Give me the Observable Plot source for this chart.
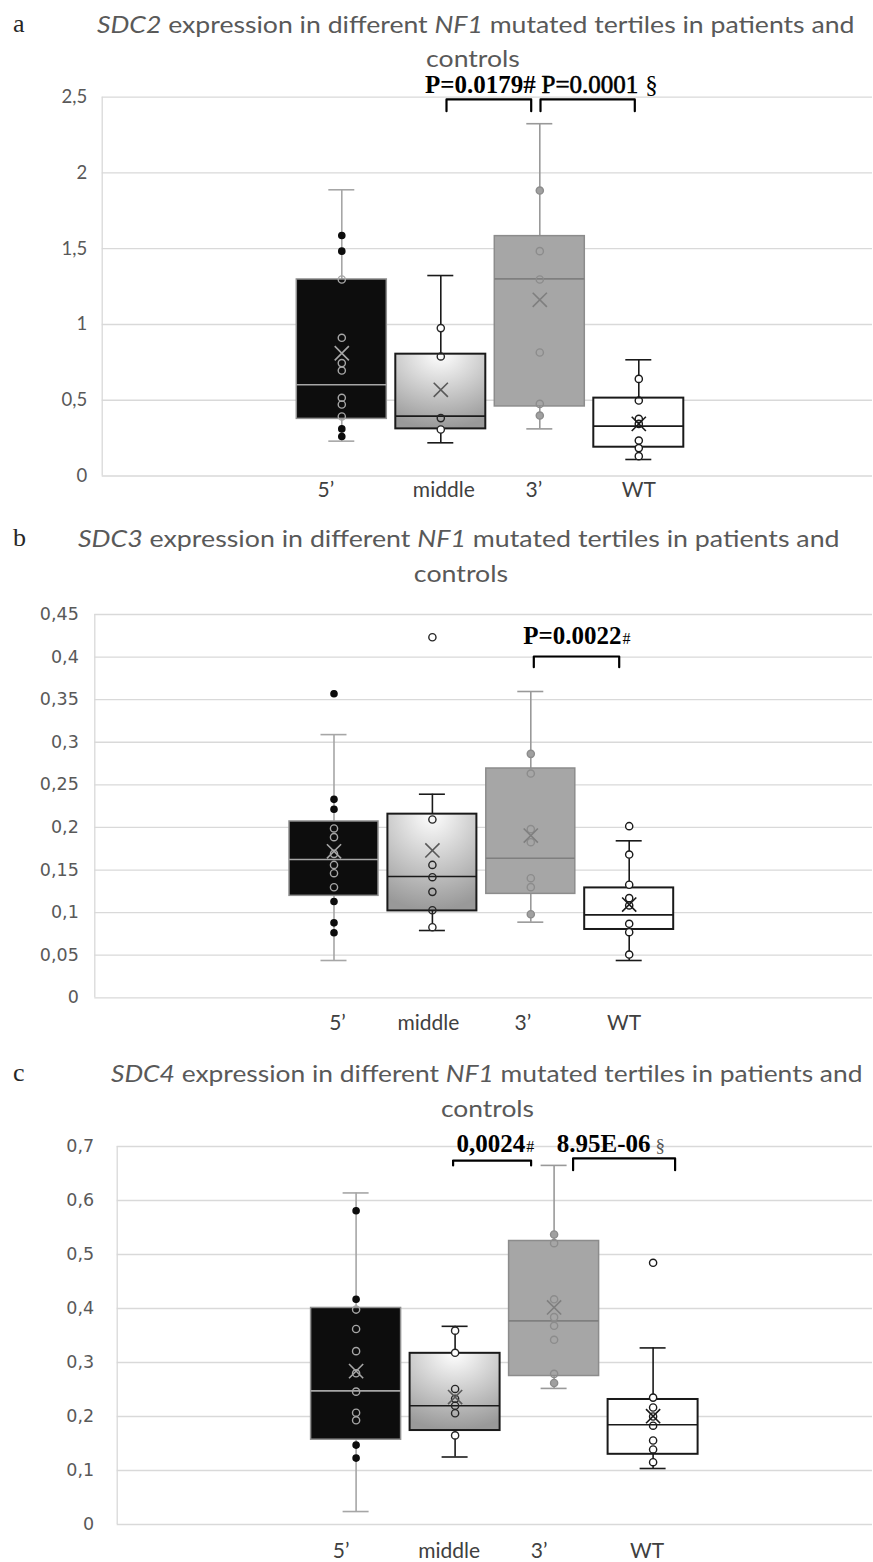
<!DOCTYPE html>
<html>
<head>
<meta charset="utf-8">
<script src="https://cdn.jsdelivr.net/npm/d3@7"></script>
<script src="https://cdn.jsdelivr.net/npm/@observablehq/plot@0.6"></script>
<style>
  body { margin: 0; background: #fff; }
  #chart { width: 873px; }
  #chart svg { display: block; }
</style>
</head>
<body>
<div id="chart"></div>
<script>
// ---------- shared categories ----------
const categories = ["5’", "middle", "3’", "WT"];

// ---------- panel a : SDC2 ----------
const sdc2Low    = [0.23, 0.219, 0.311, 0.109];
const sdc2Q1     = [0.377, 0.311, 0.459, 0.19];
const sdc2Median = [0.602, 0.395, 1.301, 0.329];
const sdc2Q3     = [1.297, 0.804, 1.583, 0.514];
const sdc2High   = [1.889, 1.323, 2.325, 0.767];
const sdc2Mean   = [0.81, 0.569, 1.163, 0.344];
const sdc2Points = [
  [1.587, 1.484, 1.297, 0.912, 0.745, 0.696, 0.516, 0.472, 0.393, 0.311, 0.261],
  [0.976, 0.789, 0.382, 0.307],
  [1.884, 1.484, 1.297, 0.815, 0.476, 0.399],
  [0.641, 0.498, 0.377, 0.344, 0.234, 0.184, 0.131]
];
const sdc2Ticks = [0, 0.5, 1, 1.5, 2, 2.5];
const sdc2Tests = [
  {from: "middle", to: "3’", label: "P=0.0179", suffix: "#", top: 2.485, leg: 2.408, text: 2.53},
  {from: "3’", to: "WT", label: "P=0.0001", suffix: "§", top: 2.485, leg: 2.408, text: 2.53}
];

// ---------- panel b : SDC3 ----------
const sdc3Low    = [0.0438, 0.079, 0.0888, 0.0438];
const sdc3Q1     = [0.1197, 0.102, 0.122, 0.0802];
const sdc3Median = [0.1624, 0.1424, 0.1639, 0.0974];
const sdc3Q3     = [0.207, 0.2156, 0.2692, 0.129];
const sdc3High   = [0.309, 0.239, 0.3596, 0.1843];
const sdc3Mean   = [0.172, 0.173, 0.1905, 0.1095];
const sdc3Points = [
  [0.357, 0.233, 0.2214, 0.1988, 0.1886, 0.169, 0.156, 0.1463, 0.1298, 0.113, 0.088, 0.0763],
  [0.4233, 0.2093, 0.156, 0.1416, 0.1244, 0.1028, 0.0829],
  [0.2864, 0.2633, 0.198, 0.1827, 0.1404, 0.1299, 0.0981],
  [0.2015, 0.1682, 0.1327, 0.117, 0.1084, 0.0869, 0.077, 0.0508]
];
const sdc3Ticks = [0, 0.05, 0.1, 0.15, 0.2, 0.25, 0.3, 0.35, 0.4, 0.45];
const sdc3Tests = [
  {from: "3’", to: "WT", label: "P=0.0022", suffix: "#", top: 0.4007, leg: 0.3881, text: 0.4156}
];

// ---------- panel c : SDC4 ----------
const sdc4Low    = [0.024, 0.125, 0.252, 0.1037];
const sdc4Q1     = [0.157, 0.174, 0.275, 0.130];
const sdc4Median = [0.2475, 0.22, 0.377, 0.1846];
const sdc4Q3     = [0.401, 0.317, 0.525, 0.2315];
const sdc4High   = [0.614, 0.367, 0.665, 0.327];
const sdc4Mean   = [0.284, 0.236, 0.402, 0.2006];
const sdc4Points = [
  [0.581, 0.417, 0.398, 0.362, 0.321, 0.28, 0.246, 0.207, 0.193, 0.147, 0.123],
  [0.359, 0.318, 0.251, 0.233, 0.22, 0.206, 0.165],
  [0.537, 0.521, 0.417, 0.384, 0.368, 0.342, 0.279, 0.262],
  [0.4846, 0.235, 0.2167, 0.2, 0.183, 0.1556, 0.139, 0.1154]
];
const sdc4Ticks = [0, 0.1, 0.2, 0.3, 0.4, 0.5, 0.6, 0.7];
const sdc4Tests = [
  {from: "middle", to: "3’", label: "0,0024", suffix: "#", top: 0.674, leg: 0.665, text: 0.6894},
  {from: "3’", to: "WT", label: "8.95E-06", suffix: "§", top: 0.678, leg: 0.656, text: 0.6894}
];

// ---------- styling ----------
const GRAD_PLACEHOLDER = "#c0c0c1";
const looks = [
  {fill: "#0d0d0d", stroke: "#909090", sw: 1.5, median: "#a6a6a6", whisker: "#a6a6a6", mean: "#a6a6a6",
   inFill: "none", inStroke: "#a6a6a6", outFill: "#0d0d0d", outStroke: "#0d0d0d", outR: 3.1},
  {fill: GRAD_PLACEHOLDER, stroke: "#1a1a1a", sw: 2, median: "#1a1a1a", whisker: "#1a1a1a", mean: "#595959",
   inFill: "none", inStroke: "#262626", outFill: "#ffffff", outStroke: "#262626", outR: 3.6},
  {fill: "#a6a6a6", stroke: "#8c8c8c", sw: 1.5, median: "#7f7f7f", whisker: "#999999", mean: "#7f7f7f",
   inFill: "none", inStroke: "#8c8c8c", outFill: "#a0a0a0", outStroke: "#8c8c8c", outR: 3.6},
  {fill: "#ffffff", stroke: "#1a1a1a", sw: 2, median: "#1a1a1a", whisker: "#1a1a1a", mean: "#1a1a1a",
   inFill: "none", inStroke: "#1a1a1a", outFill: "#ffffff", outStroke: "#1a1a1a", outR: 3.6}
];

const panels = [
  {id: "a", gene: "SDC2", low: sdc2Low, q1: sdc2Q1, med: sdc2Median, q3: sdc2Q3, high: sdc2High, mean: sdc2Mean,
   points: sdc2Points, ticks: sdc2Ticks, tests: sdc2Tests, yMax: 2.5,
   height: 505, top: 96.7, bottom: 29.5, left: 101.7, right: 872, firstCenter: 341.3, step: 99,
   boxHalf: 45, capHalf: 13, yPad: 15, yFont: 18.5, yFamily: "Lato", xPad: 5.6, labelNudge: [-16, 3, -6, 0],
   titleX1: 97, titleX2: 855, titleY1: 33.3, title2CX: 473, titleY2: 66.7, letterY: 31.7,
   bracketNudge: [[5.7, -8.6], [0.7, -4]], joinNudge: [33, 49],
   labelStyle: [{weight: "bold", stroke: null}, {weight: "normal", stroke: 0.6}],
   suffixStyle: [{size: 25, weight: "bold", gap: 0, fill: "#000"}, {size: 25, weight: "normal", gap: 7, fill: "#000"}]},
  {id: "b", gene: "SDC3", low: sdc3Low, q1: sdc3Q1, med: sdc3Median, q3: sdc3Q3, high: sdc3High, mean: sdc3Mean,
   points: sdc3Points, ticks: sdc3Ticks, tests: sdc3Tests, yMax: 0.45,
   height: 530, top: 109, bottom: 37.7, left: 94.3, right: 872, firstCenter: 333.5, step: 98.4,
   boxHalf: 44.5, capHalf: 13, yPad: 16, yFont: 17.5, yFamily: "DejaVu Sans", xPad: 16.8, labelNudge: [3.5, -4, -8, -5],
   titleX1: 78, titleX2: 840, titleY1: 42, title2CX: 461, titleY2: 77, letterY: 41,
   bracketNudge: [[3, -10]], joinNudge: [41.5],
   labelStyle: [{weight: "bold", stroke: null}],
   suffixStyle: [{size: 16, weight: "normal", gap: 1, fill: "#000"}]},
  {id: "c", gene: "SDC4", low: sdc4Low, q1: sdc4Q1, med: sdc4Median, q3: sdc4Q3, high: sdc4High, mean: sdc4Mean,
   points: sdc4Points, ticks: sdc4Ticks, tests: sdc4Tests, yMax: 0.7,
   height: 527, top: 111, bottom: 38, left: 116.7, right: 872, firstCenter: 355.6, step: 99,
   boxHalf: 45, capHalf: 13, yPad: 23, yFont: 17.5, yFamily: "DejaVu Sans", xPad: 19, labelNudge: [-15, -6, -15, -6],
   titleX1: 111, titleX2: 863, titleY1: 47, title2CX: 487.5, titleY2: 82, letterY: 46,
   bracketNudge: [[-2, -23], [19, 22]], joinNudge: [20.6, 47],
   labelStyle: [{weight: "bold", stroke: null}, {weight: "bold", stroke: null}],
   suffixStyle: [{size: 16, weight: "normal", gap: 1, fill: "#000"}, {size: 19, weight: "normal", gap: 5, fill: "#555"}]}
];

const W = 873;
const TITLE_SIZE = 24;
const container = document.getElementById("chart");

function drawPanel(p) {
  const u = px => px / p.step;
  const xlo = -(p.firstCenter - p.left) / p.step;
  const xhi = 3 + (p.right - (p.firstCenter + 3 * p.step)) / p.step;
  const idx = c => categories.indexOf(c);
  const marks = [];

  marks.push(Plot.gridY(p.ticks, {stroke: "#d9d9d9", strokeOpacity: 1, strokeWidth: 1.3}));
  marks.push(Plot.ruleX([xlo], {stroke: "#d9d9d9", strokeWidth: 1.3}));
  marks.push(Plot.axisY(p.ticks, {
    tickSize: 0, tickPadding: p.yPad, label: null,
    tickFormat: d => String(d).replace(".", ","),
    fontSize: p.yFont, fontFamily: p.yFamily, color: "#595959"
  }));
  marks.push(Plot.axisX(categories.map((c, i) => i + u(p.labelNudge[i])), {
    tickSize: 0, tickPadding: p.xPad, label: null,
    tickFormat: d => categories[Math.round(d)],
    fontSize: 21, fontFamily: "Lato", color: "#404040"
  }));

  categories.forEach((c, i) => {
    const s = looks[i];
    const stat = [{i, lo: p.low[i], q1: p.q1[i], med: p.med[i], q3: p.q3[i], hi: p.high[i], mean: p.mean[i]}];
    marks.push(Plot.ruleX(stat, {x: "i", y1: "lo", y2: "hi", stroke: s.whisker, strokeWidth: 1.6}));
    marks.push(Plot.ruleY(stat, {y: "lo", x1: d => d.i - u(p.capHalf), x2: d => d.i + u(p.capHalf), stroke: s.whisker, strokeWidth: 1.6}));
    marks.push(Plot.ruleY(stat, {y: "hi", x1: d => d.i - u(p.capHalf), x2: d => d.i + u(p.capHalf), stroke: s.whisker, strokeWidth: 1.6}));
    marks.push(Plot.rect(stat, {x1: d => d.i - u(p.boxHalf), x2: d => d.i + u(p.boxHalf), y1: "q1", y2: "q3",
      fill: s.fill, stroke: s.stroke, strokeWidth: s.sw}));
    marks.push(Plot.ruleY(stat, {y: "med", x1: d => d.i - u(p.boxHalf), x2: d => d.i + u(p.boxHalf), stroke: s.median, strokeWidth: 1.6}));
    const pts = p.points[i].map(v => ({i, v, inside: v >= p.q1[i] && v <= p.q3[i]}));
    marks.push(Plot.dot(pts.filter(d => !d.inside), {x: "i", y: "v", r: s.outR, fill: s.outFill, stroke: s.outStroke, strokeWidth: 1.4}));
    marks.push(Plot.dot(pts.filter(d => d.inside), {x: "i", y: "v", r: 3.6, fill: s.inFill, stroke: s.inStroke, strokeWidth: 1.4}));
    marks.push(Plot.dot(stat, {x: "i", y: "mean", symbol: "times", r: 6.5, stroke: s.mean, strokeWidth: 1.6}));
  });

  // significance brackets and labels
  p.tests.forEach((t, k) => {
    const x1 = idx(t.from) + u(p.bracketNudge[k][0]);
    const x2 = idx(t.to) + u(p.bracketNudge[k][1]);
    const path = [{x: x1, y: t.leg}, {x: x1, y: t.top}, {x: x2, y: t.top}, {x: x2, y: t.leg}];
    marks.push(Plot.line(path, {x: "x", y: "y", stroke: "#000", strokeWidth: 2.2, curve: "linear"}));
    const join = (idx(t.from) + idx(t.to)) / 2 + u(p.joinNudge[k]);
    const ls = p.labelStyle[k];
    const lopts = {x: "x", y: "y", text: "t", textAnchor: "end", lineAnchor: "bottom",
      fontFamily: "Liberation Serif, Times New Roman, serif", fontSize: 25, fontWeight: ls.weight, fill: "#000"};
    if (ls.stroke) { lopts.stroke = "#000"; lopts.strokeWidth = ls.stroke; }
    marks.push(Plot.text([{x: join, y: t.text, t: t.label}], lopts));
    const ss = p.suffixStyle[k];
    marks.push(Plot.text([{x: join + u(ss.gap), y: t.text, t: t.suffix}], {
      x: "x", y: "y", text: "t", textAnchor: "start", lineAnchor: "bottom",
      fontFamily: "Liberation Serif, Times New Roman, serif", fontSize: ss.size, fontWeight: ss.weight, fill: ss.fill
    }));
  });

  const svg = Plot.plot({
    width: W, height: p.height,
    marginTop: p.top, marginBottom: p.bottom, marginLeft: p.left, marginRight: W - p.right,
    x: {type: "linear", domain: [xlo, xhi], label: null},
    y: {type: "linear", domain: [0, p.yMax], label: null},
    style: {background: "#fff", overflow: "visible"},
    marks
  });
  container.appendChild(svg);

  const s = d3.select(svg);
  // gradient for the "middle" boxes
  const gid = "grad-" + p.id;
  const grad = s.append("defs").append("radialGradient").attr("id", gid)
    .attr("cx", "50%").attr("cy", "0%").attr("fx", "50%").attr("fy", "0%").attr("r", "100%");
  grad.append("stop").attr("offset", "0%").attr("stop-color", "#ffffff");
  grad.append("stop").attr("offset", "100%").attr("stop-color", "#999999");
  s.selectAll(`[fill="${GRAD_PLACEHOLDER}"]`).attr("fill", `url(#${gid})`);

  // panel letter
  s.append("text").attr("x", 13).attr("y", p.letterY).attr("text-anchor", "start")
    .attr("font-family", "Liberation Serif, serif").attr("font-size", 26).attr("fill", "#262626").text(p.id);

  // title, line 1 (fitted horizontally to the reference width)
  const g1 = s.append("g");
  const t1 = g1.append("text").attr("x", 0).attr("y", 0).attr("text-anchor", "start")
    .attr("font-family", "Lato").attr("font-size", TITLE_SIZE).attr("fill", "#595959");
  t1.append("tspan").attr("font-style", "italic").text(p.gene);
  t1.append("tspan").text(" expression in different ");
  t1.append("tspan").attr("font-style", "italic").text("NF1");
  t1.append("tspan").text(" mutated tertiles in patients and");
  const natural = t1.node().getBBox().width || 1;
  const factor = (p.titleX2 - p.titleX1) / natural;
  g1.attr("transform", `translate(${p.titleX1},${p.titleY1}) scale(${factor},1)`);

  // title, line 2
  const g2 = s.append("g").attr("transform", `translate(${p.title2CX},${p.titleY2}) scale(${factor},1)`);
  g2.append("text").attr("x", 0).attr("y", 0).attr("text-anchor", "middle")
    .attr("font-family", "Lato").attr("font-size", TITLE_SIZE).attr("fill", "#595959").text("controls");
}

panels.forEach(drawPanel);
</script>
</body>
</html>
